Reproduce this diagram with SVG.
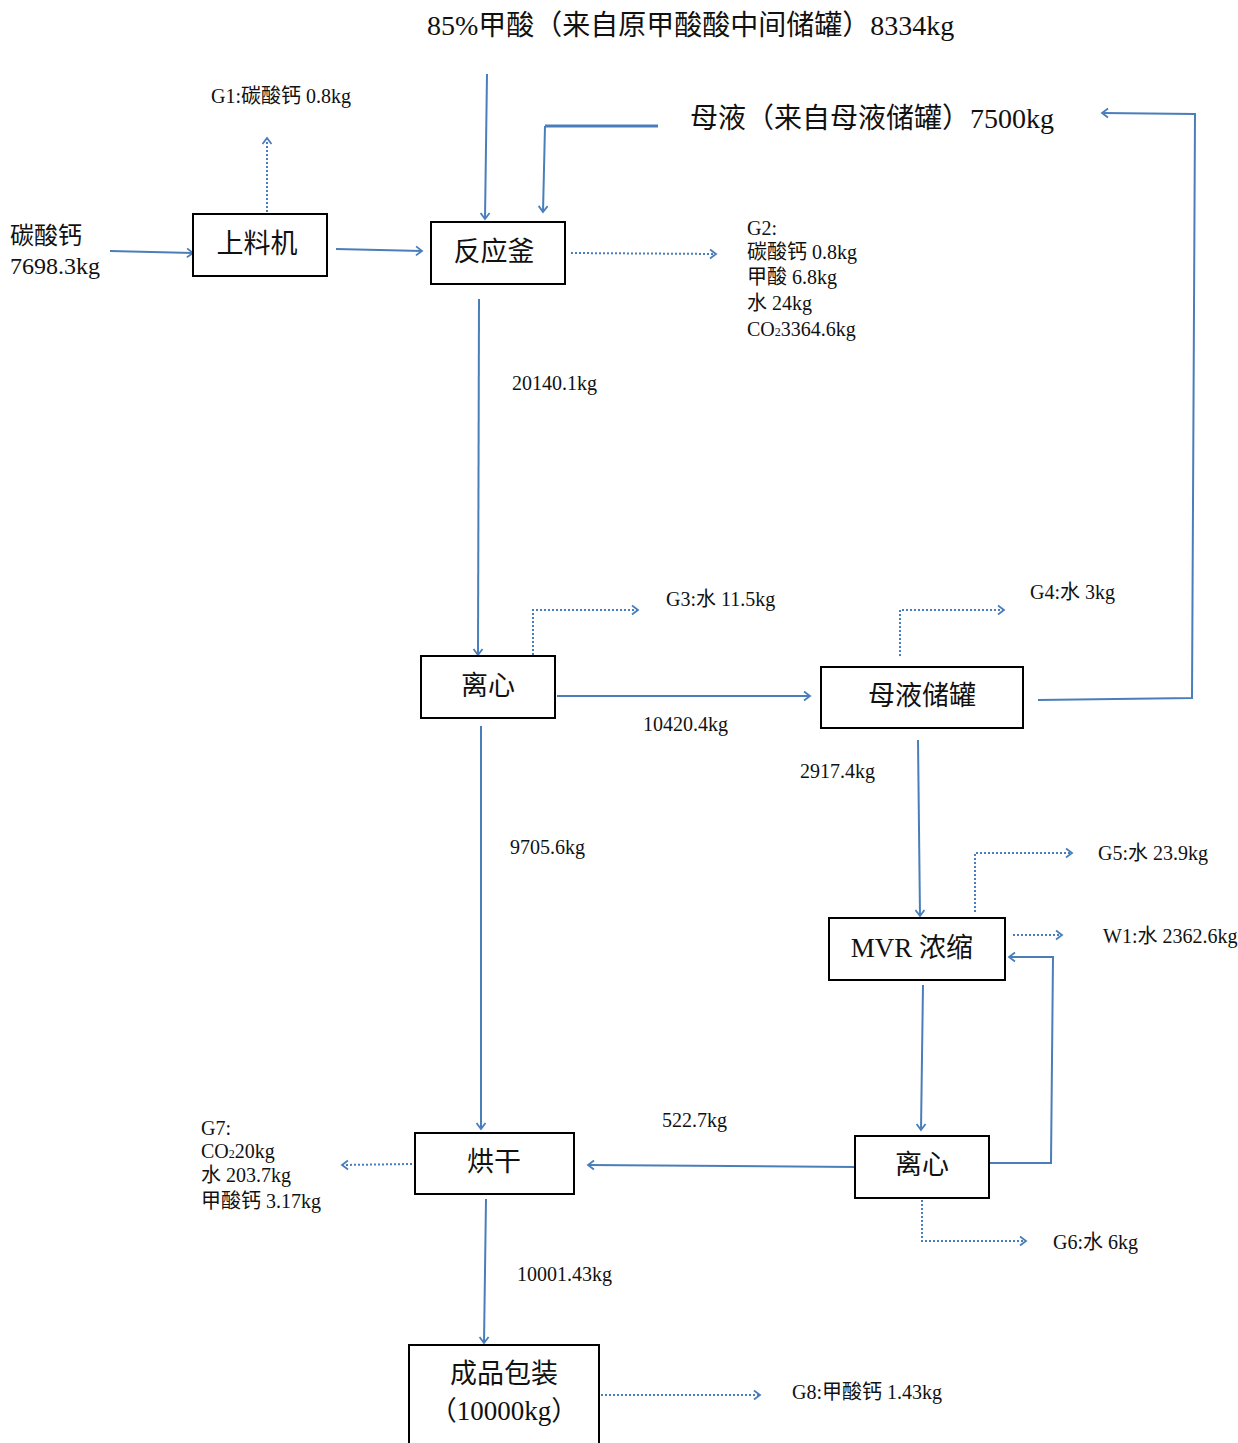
<svg xmlns="http://www.w3.org/2000/svg" width="1238" height="1443" viewBox="0 0 1238 1443">
<style>
text{font-family:"Liberation Serif","Noto Sans CJK SC",serif;fill:#111}
.box{fill:#fff;stroke:#000;stroke-width:2}
.bt{font-size:27px;text-anchor:middle}
.lb{font-size:20px}
.big{font-size:28px}
.ln{fill:none;stroke:#4a7ebb;stroke-width:2}
.dt{fill:none;stroke:#4a7ebb;stroke-width:2;stroke-dasharray:2 2}
</style>
<defs>
<marker id="ah" markerWidth="12" markerHeight="12" refX="10" refY="6" orient="auto" markerUnits="userSpaceOnUse">
<polyline points="4,1.5 10,6 4,10.5" fill="none" stroke="#4a7ebb" stroke-width="1.8"/>
</marker>
</defs>
<g id="connectors">
<line class="ln" x1="110" y1="251" x2="193" y2="253" marker-end="url(#ah)"/>
<line class="ln" x1="336" y1="249" x2="422" y2="251" marker-end="url(#ah)"/>
<line class="ln" x1="487" y1="74" x2="485" y2="219" marker-end="url(#ah)"/>
<polyline class="ln" points="658,126 545,126" style="stroke-width:3"/>
<polyline class="ln" points="545,126 543,212" marker-end="url(#ah)"/>
<polyline class="ln" points="1038,700 1192,698 1195,114 1102,113" marker-end="url(#ah)"/>
<line class="ln" x1="479" y1="299" x2="478" y2="655" marker-end="url(#ah)"/>
<line class="ln" x1="557" y1="696" x2="810" y2="696" marker-end="url(#ah)"/>
<line class="ln" x1="481" y1="726" x2="481" y2="1129" marker-end="url(#ah)"/>
<line class="ln" x1="918" y1="740" x2="920" y2="916" marker-end="url(#ah)"/>
<line class="ln" x1="923" y1="985" x2="921" y2="1130" marker-end="url(#ah)"/>
<polyline class="ln" points="989,1163 1051,1163 1053,957 1009,957" marker-end="url(#ah)"/>
<line class="ln" x1="855" y1="1167" x2="588" y2="1165" marker-end="url(#ah)"/>
<line class="ln" x1="486" y1="1199" x2="484" y2="1343" marker-end="url(#ah)"/>
<line class="dt" x1="267" y1="212" x2="267" y2="138" marker-end="url(#ah)"/>
<line class="dt" x1="571" y1="253" x2="716" y2="254" marker-end="url(#ah)"/>
<polyline class="dt" points="533,655 533,610 638,610" marker-end="url(#ah)"/>
<polyline class="dt" points="900,656 900,610 1004,610" marker-end="url(#ah)"/>
<polyline class="dt" points="975,912 975,853 1072,853" marker-end="url(#ah)"/>
<line class="dt" x1="1013" y1="935" x2="1062" y2="935" marker-end="url(#ah)"/>
<polyline class="dt" points="922,1200 922,1241 1026,1241" marker-end="url(#ah)"/>
<line class="dt" x1="412" y1="1164" x2="342" y2="1165" marker-end="url(#ah)"/>
<line class="dt" x1="601" y1="1395" x2="760" y2="1395" marker-end="url(#ah)"/>
</g>
<g id="n-loader"><rect class="box" x="193" y="214" width="134" height="62"/><text class="bt" x="257" y="253">上料机</text></g>
<g id="n-reactor"><rect class="box" x="431" y="222" width="134" height="62"/><text class="bt" x="494" y="261">反应釜</text></g>
<g id="n-centrifuge1"><rect class="box" x="421" y="656" width="134" height="62"/><text class="bt" x="488" y="695">离心</text></g>
<g id="n-tank"><rect class="box" x="821" y="667" width="202" height="61"/><text class="bt" x="922" y="705">母液储罐</text></g>
<g id="n-mvr"><rect class="box" x="829" y="918" width="176" height="62"/><text class="bt" x="912" y="957">MVR 浓缩</text></g>
<g id="n-centrifuge2"><rect class="box" x="855" y="1136" width="134" height="62"/><text class="bt" x="922" y="1174">离心</text></g>
<g id="n-dryer"><rect class="box" x="415" y="1133" width="159" height="61"/><text class="bt" x="494" y="1171">烘干</text></g>
<g id="n-package"><rect class="box" x="409" y="1345" width="190" height="110"/><text class="bt" x="504" y="1383">成品包装</text><text class="bt" x="504" y="1420">（10000kg）</text></g>
<g id="labels">
<text class="big" x="427" y="35">85%甲酸（来自原甲酸酸中间储罐）8334kg</text>
<text class="big" x="690" y="128">母液（来自母液储罐）7500kg</text>
<text style="font-size:24px" x="10" y="244">碳酸钙</text>
<text style="font-size:24px" x="10" y="274">7698.3kg</text>
<text class="lb" x="211" y="103">G1:碳酸钙 0.8kg</text>
<text class="lb" x="747" y="235">G2:</text>
<text class="lb" x="747" y="259">碳酸钙 0.8kg</text>
<text class="lb" x="747" y="284">甲酸 6.8kg</text>
<text class="lb" x="747" y="310">水 24kg</text>
<text class="lb" x="747" y="336">CO<tspan style="font-size:12px">2</tspan>3364.6kg</text>
<text class="lb" x="512" y="390">20140.1kg</text>
<text class="lb" x="666" y="606">G3:水 11.5kg</text>
<text class="lb" x="1030" y="599">G4:水 3kg</text>
<text class="lb" x="643" y="731">10420.4kg</text>
<text class="lb" x="800" y="778">2917.4kg</text>
<text class="lb" x="510" y="854">9705.6kg</text>
<text class="lb" x="1098" y="860">G5:水 23.9kg</text>
<text class="lb" x="1103" y="943">W1:水 2362.6kg</text>
<text class="lb" x="662" y="1127">522.7kg</text>
<text class="lb" x="201" y="1135">G7:</text>
<text class="lb" x="201" y="1158">CO<tspan style="font-size:12px">2</tspan>20kg</text>
<text class="lb" x="201" y="1182">水 203.7kg</text>
<text class="lb" x="201" y="1208">甲酸钙 3.17kg</text>
<text class="lb" x="1053" y="1249">G6:水 6kg</text>
<text class="lb" x="517" y="1281">10001.43kg</text>
<text class="lb" x="792" y="1399">G8:甲酸钙 1.43kg</text>
</g>
</svg>
